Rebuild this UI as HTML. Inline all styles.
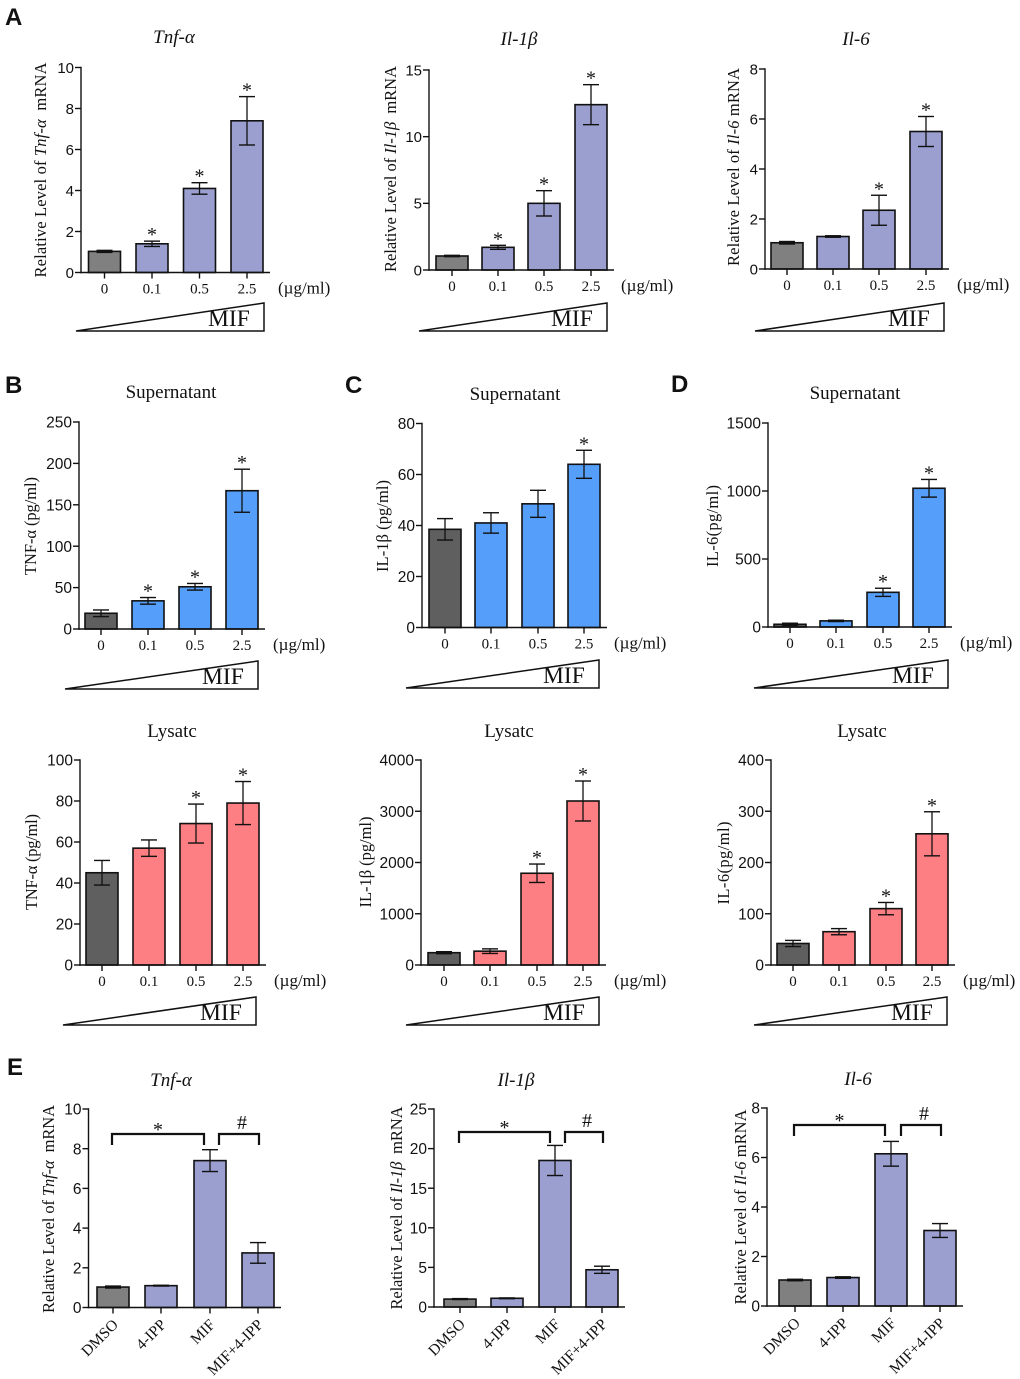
<!DOCTYPE html>
<html lang="en">
<head>
<meta charset="utf-8">
<title>MIF cytokine expression panels</title>
<style>
html,body{margin:0;padding:0;background:#fff;}
svg{display:block;filter:blur(0.35px);}
text{fill:#111;white-space:pre;}
.serif{font-family:"Liberation Serif",serif;}
.sans{font-family:"Liberation Sans",sans-serif;}
</style>
</head>
<body>
<svg id="figure" xmlns="http://www.w3.org/2000/svg" width="1020" height="1379" viewBox="0 0 1020 1379"></svg>
<script>
// ---------- data ----------
const doseCategories = ['0', '0.1', '0.5', '2.5'];
const treatmentCategories = ['DMSO', '4-IPP', 'MIF', 'MIF+4-IPP'];

const tnfMrnaValues = [1.03, 1.4, 4.1, 7.4];
const tnfMrnaErrors = [0.05, 0.13, 0.28, 1.18];
const tnfMrnaStars = [0, 1, 1, 1];
const tnfMrnaTicks = ['0', '2', '4', '6', '8', '10'];

const il1MrnaValues = [1.05, 1.7, 5.0, 12.4];
const il1MrnaErrors = [0.05, 0.15, 0.95, 1.5];
const il1MrnaStars = [0, 1, 1, 1];
const il1MrnaTicks = ['0', '5', '10', '15'];

const il6MrnaValues = [1.05, 1.3, 2.35, 5.5];
const il6MrnaErrors = [0.05, 0.03, 0.6, 0.6];
const il6MrnaStars = [0, 0, 1, 1];
const il6MrnaTicks = ['0', '2', '4', '6', '8'];

const tnfSupValues = [19, 34, 51, 167];
const tnfSupErrors = [4, 4, 4, 26];
const tnfSupStars = [0, 1, 1, 1];
const tnfSupTicks = ['0', '50', '100', '150', '200', '250'];

const il1SupValues = [38.5, 41, 48.5, 64];
const il1SupErrors = [4.2, 4, 5.3, 5.5];
const il1SupStars = [0, 0, 0, 1];
const il1SupTicks = ['0', '20', '40', '60', '80'];

const il6SupValues = [20, 45, 255, 1020];
const il6SupErrors = [8, 5, 30, 65];
const il6SupStars = [0, 0, 1, 1];
const il6SupTicks = ['0', '500', '1000', '1500'];

const tnfLysValues = [45, 57, 69, 79];
const tnfLysErrors = [6, 4, 9.5, 10.5];
const tnfLysStars = [0, 0, 1, 1];
const tnfLysTicks = ['0', '20', '40', '60', '80', '100'];

const il1LysValues = [240, 270, 1790, 3200];
const il1LysErrors = [20, 45, 180, 390];
const il1LysStars = [0, 0, 1, 1];
const il1LysTicks = ['0', '1000', '2000', '3000', '4000'];

const il6LysValues = [42, 65, 110, 256];
const il6LysErrors = [6, 6, 12, 43];
const il6LysStars = [0, 0, 1, 1];
const il6LysTicks = ['0', '100', '200', '300', '400'];

const tnfInhibValues = [1.03, 1.1, 7.4, 2.75];
const tnfInhibErrors = [0.05, 0.02, 0.55, 0.52];
const tnfInhibTicks = ['0', '2', '4', '6', '8', '10'];

const il1InhibValues = [1.0, 1.1, 18.5, 4.7];
const il1InhibErrors = [0.06, 0.05, 1.9, 0.45];
const il1InhibTicks = ['0', '5', '10', '15', '20', '25'];

const il6InhibValues = [1.05, 1.15, 6.15, 3.05];
const il6InhibErrors = [0.03, 0.03, 0.5, 0.28];
const il6InhibTicks = ['0', '2', '4', '6', '8'];

const panelLetters = ['A', 'B', 'C', 'D', 'E'];

// ---------- layout (geometry only, values come from the arrays above) ----------
const PURPLE = '#9a9fd0', BLUE = '#559ffa', PINK = '#fe7f83';
const GREY_LIGHT = '#808080', GREY_DARK = '#5f5f5f';

const letterSpots = [[5, 25], [5, 393], [345, 393], [671, 392], [7, 1075]];

const panels = [
  {id:'a-tnf', title:[['Tnf-α',1]], tx:174, ty:43, ax:81, y0:272.5, yt:67.5, max:10, cx:[104.5,152,199.5,247],
   vals:tnfMrnaValues, errs:tnfMrnaErrors, stars:tnfMrnaStars, ticks:tnfMrnaTicks, color:PURPLE, base:GREY_LIGHT,
   ylab:[['Relative Level of ',0],['Tnf-α',1],['  mRNA',0]], yx:46, yc:170, ylen:215, tri:[76,264,331], ul:278, fs:15},
  {id:'a-il1b', title:[['Il-1β',1]], tx:519, ty:45, ax:429, y0:270, yt:70, max:15, cx:[452,498,544,591],
   vals:il1MrnaValues, errs:il1MrnaErrors, stars:il1MrnaStars, ticks:il1MrnaTicks, color:PURPLE, base:GREY_LIGHT,
   ylab:[['Relative Level of ',0],['Il-1β',1],['  mRNA',0]], yx:396, yc:169, ylen:206, tri:[419,607,331], ul:621, fs:15},
  {id:'a-il6', title:[['Il-6',1]], tx:856, ty:45, ax:765, y0:269, yt:69, max:8, cx:[787,833,879,926],
   vals:il6MrnaValues, errs:il6MrnaErrors, stars:il6MrnaStars, ticks:il6MrnaTicks, color:PURPLE, base:GREY_LIGHT,
   ylab:[['Relative Level of ',0],['Il-6',1],[' mRNA',0]], yx:739, yc:167, ylen:198, tri:[755,944,331], ul:957, fs:15},

  {id:'b-sup', title:[['Supernatant',0]], tx:171, ty:398, ax:79, y0:629, yt:422, max:250, cx:[101,148,195,242],
   vals:tnfSupValues, errs:tnfSupErrors, stars:tnfSupStars, ticks:tnfSupTicks, color:BLUE, base:GREY_DARK,
   ylab:[['TNF-α (pg/ml)',0]], yx:36, yc:526, ylen:98, tri:[65,258,689], ul:273, fs:15.5},
  {id:'c-sup', title:[['Supernatant',0]], tx:515, ty:400, ax:422, y0:627.5, yt:423.5, max:80, cx:[445,491,538,584],
   vals:il1SupValues, errs:il1SupErrors, stars:il1SupStars, ticks:il1SupTicks, color:BLUE, base:GREY_DARK,
   ylab:[['IL-1β (pg/ml)',0]], yx:388, yc:526, ylen:92, tri:[406,599,688], ul:614, fs:15.5},
  {id:'d-sup', title:[['Supernatant',0]], tx:855, ty:399, ax:768, y0:627, yt:423, max:1500, cx:[790,836,883,929],
   vals:il6SupValues, errs:il6SupErrors, stars:il6SupStars, ticks:il6SupTicks, color:BLUE, base:GREY_DARK,
   ylab:[['IL-6(pg/ml)',0]], yx:718, yc:526, ylen:82, tri:[754,948,688], ul:960, fs:15.5},

  {id:'b-lys', title:[['Lysatc',0]], tx:172, ty:737, ax:80, y0:965, yt:760, max:100, cx:[102,149,196,243],
   vals:tnfLysValues, errs:tnfLysErrors, stars:tnfLysStars, ticks:tnfLysTicks, color:PINK, base:GREY_DARK,
   ylab:[['TNF-α (pg/ml)',0]], yx:37, yc:862, ylen:96, tri:[63,256,1025], ul:274, fs:15.5},
  {id:'c-lys', title:[['Lysatc',0]], tx:509, ty:737, ax:421, y0:965, yt:760, max:4000, cx:[444,490,537,583],
   vals:il1LysValues, errs:il1LysErrors, stars:il1LysStars, ticks:il1LysTicks, color:PINK, base:GREY_DARK,
   ylab:[['IL-1β (pg/ml)',0]], yx:371, yc:862, ylen:91, tri:[406,599,1025], ul:614, fs:15.5},
  {id:'d-lys', title:[['Lysatc',0]], tx:862, ty:737, ax:771, y0:965, yt:760, max:400, cx:[793,839,886,932],
   vals:il6LysValues, errs:il6LysErrors, stars:il6LysStars, ticks:il6LysTicks, color:PINK, base:GREY_DARK,
   ylab:[['IL-6(pg/ml)',0]], yx:729, yc:863, ylen:83, tri:[754,947,1025], ul:963, fs:15.5},

  {id:'e-tnf', title:[['Tnf-α',1]], tx:171, ty:1086, ax:88.5, y0:1307.5, yt:1109, max:10, cx:[113,161,210,258],
   vals:tnfInhibValues, errs:tnfInhibErrors, ticks:tnfInhibTicks, color:PURPLE, base:GREY_LIGHT, rot:true,
   ylab:[['Relative Level of ',0],['Tnf-α',1],['  mRNA',0]], yx:54, yc:1209, ylen:208, fs:15.5,
   br:[112,204,219,259,1134,11]},
  {id:'e-il1b', title:[['Il-1β',1]], tx:516, ty:1086, ax:434, y0:1307, yt:1109, max:25, cx:[460,507,555,602],
   vals:il1InhibValues, errs:il1InhibErrors, ticks:il1InhibTicks, color:PURPLE, base:GREY_LIGHT, rot:true,
   ylab:[['Relative Level of ',0],['Il-1β',1],['  mRNA',0]], yx:402, yc:1208, ylen:203, fs:15.5,
   br:[459,550,565,603,1132,11]},
  {id:'e-il6', title:[['Il-6',1]], tx:858, ty:1085, ax:767, y0:1306, yt:1108, max:8, cx:[795,843,891,940],
   vals:il6InhibValues, errs:il6InhibErrors, ticks:il6InhibTicks, color:PURPLE, base:GREY_LIGHT, rot:true,
   ylab:[['Relative Level of ',0],['Il-6',1],[' mRNA',0]], yx:746, yc:1207, ylen:195, fs:15.5,
   br:[794,885,901,941,1125,11]}
];

// ---------- drawing ----------
const NS = 'http://www.w3.org/2000/svg';
const root = document.getElementById('figure');
const INK = '#111';

function make(tag, parent, attrs) {
  const node = document.createElementNS(NS, tag);
  for (const k in attrs) node.setAttribute(k, attrs[k]);
  parent.appendChild(node);
  return node;
}
function line(parent, x1, y1, x2, y2, w) {
  return make('line', parent, {x1, y1, x2, y2, stroke: INK, 'stroke-width': w});
}
function fillRuns(node, runs) {
  runs.forEach(function (run) {
    const span = make('tspan', node, run[1] ? {'font-style': 'italic'} : {});
    span.textContent = run[0];
  });
}

panelLetters.forEach(function (letter, i) {
  const el = make('text', root, {x: letterSpots[i][0], y: letterSpots[i][1], class: 'sans', 'font-size': 24, 'font-weight': 700});
  
  
  el.textContent = letter;
});

panels.forEach(function (p) {
  const scaleY = function (v) { return p.y0 - (v / p.max) * (p.y0 - p.yt); };

  const g = make('g', root, {});
  
  

  const title = make('text', g, {x: p.tx, y: p.ty, class: 'serif', 'font-size': 19, 'text-anchor': 'middle'});
  
  
  fillRuns(title, p.title);

  const yTitle = make('text', g, {
    transform: 'translate(' + p.yx + ',' + p.yc + ') rotate(-90)',
    class: 'serif', 'font-size': 16.5, 'text-anchor': 'middle',
    textLength: p.ylen, lengthAdjust: 'spacing'
  });
  
  
  fillRuns(yTitle, p.ylab);

  // bars and error bars
  p.vals.forEach(function (v, i) {
    const top = scaleY(v);
    const bar = make('rect', g, {
      x: p.cx[i] - 16, y: top, width: 32, height: p.y0 - top,
      fill: i === 0 ? p.base : p.color, stroke: '#111', 'stroke-width': 1.6
    });
    
    

    const hi = scaleY(v + p.errs[i]);
    const lo = scaleY(v - p.errs[i]);
    const err = make('g', g, {});
    
    
    line(err, p.cx[i], hi, p.cx[i], lo, 1.3);
    line(err, p.cx[i] - 8, hi, p.cx[i] + 8, hi, 1.4);
    line(err, p.cx[i] - 8, lo, p.cx[i] + 8, lo, 1.4);

    if (p.stars && p.stars[i]) {
      const star = make('text', g, {x: p.cx[i], y: hi, class: 'serif', 'font-size': 20, 'text-anchor': 'middle'});
      
      
      star.textContent = '*';
    }
  });

  // y axis
  const yAxis = make('g', g, {});
  
  
  line(yAxis, p.ax, p.yt - 0.7, p.ax, p.y0 + 0.7, 1.4);
  p.ticks.forEach(function (label) {
    const ty = scaleY(Number(label));
    line(yAxis, p.ax - 6, ty, p.ax, ty, 1.4);
    const t = make('text', yAxis, {x: p.ax - 7, y: ty + p.fs * 0.36, class: 'sans', 'font-size': p.fs, 'text-anchor': 'end'});
    
    
    t.textContent = label;
  });

  // x axis
  const xAxis = make('g', g, {});
  
  
  line(xAxis, p.ax - 0.7, p.y0, p.cx[3] + 23, p.y0, 1.4);
  const cats = p.rot ? treatmentCategories : doseCategories;
  cats.forEach(function (label, i) {
    line(xAxis, p.cx[i], p.y0, p.cx[i], p.y0 + 6, 1.4);
    const attrs = p.rot
      ? {transform: 'translate(' + (p.cx[i] + 6) + ',' + (p.y0 + 18) + ') rotate(-45)', 'text-anchor': 'end'}
      : {x: p.cx[i], y: p.y0 + 21, 'text-anchor': 'middle'};
    attrs.class = 'serif';
    attrs['font-size'] = p.rot ? 15.5 : 15;
    const t = make('text', xAxis, attrs);
    
    
    t.textContent = label;
  });

  if (p.tri) {
    const unit = make('text', g, {x: p.ul, y: p.y0 + 21, class: 'serif', 'font-size': 17});
    
    
    unit.textContent = '(µg/ml)';

    const tri = make('polygon', g, {
      points: p.tri[0] + ',' + p.tri[2] + ' ' + p.tri[1] + ',' + (p.tri[2] - 28) + ' ' + p.tri[1] + ',' + p.tri[2],
      fill: '#fff', stroke: INK, 'stroke-width': 1.5
    });
    
    

    const mif = make('text', g, {x: p.tri[1] - 56, y: p.tri[2] - 5, class: 'serif', 'font-size': 23.5});
    
    
    mif.textContent = 'MIF';
  }

  if (p.br) {
    const by = p.br[4], drop = p.br[5];
    const spans = [[p.br[0], p.br[1], '*'], [p.br[2], p.br[3], '#']];
    spans.forEach(function (s) {
      const bracket = make('path', g, {
        d: 'M' + s[0] + ' ' + (by + drop) + 'V' + by + 'H' + s[1] + 'V' + (by + drop),
        fill: 'none', stroke: INK, 'stroke-width': 2.2
      });
      
      
      const isStar = s[2] === '*';
      const mark = make('text', g, {
        x: (s[0] + s[1]) / 2 + (isStar ? 0 : 3), y: isStar ? by + 2 : by - 5,
        class: 'serif', 'font-size': isStar ? 20 : 20, 'text-anchor': 'middle'
      });
      
      
      mark.textContent = s[2];
    });
  }
});
</script>
</body>
</html>
